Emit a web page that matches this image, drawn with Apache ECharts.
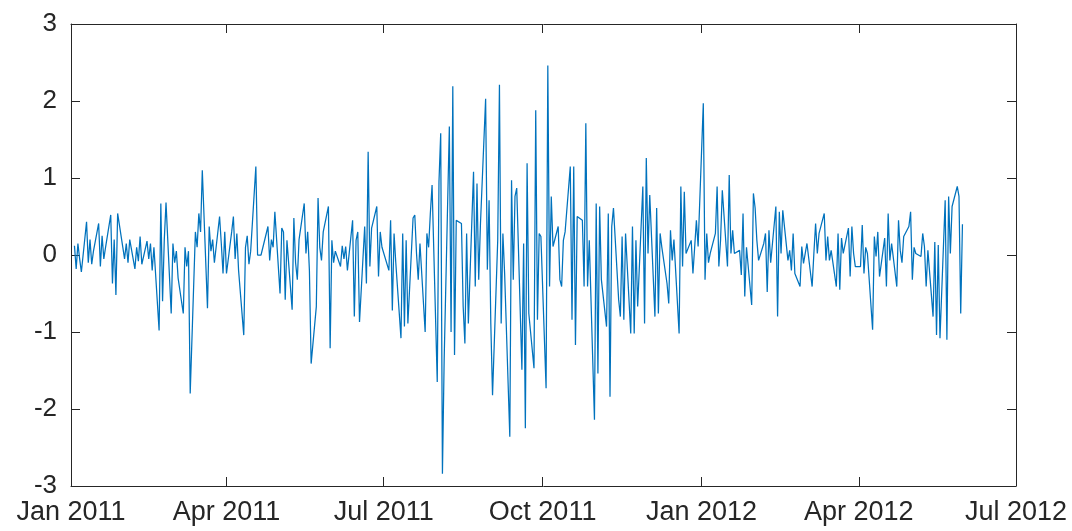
<!DOCTYPE html>
<html>
<head>
<meta charset="utf-8">
<script src="https://cdn.jsdelivr.net/npm/echarts@6/dist/echarts.min.js"></script>
<style>
  html, body { margin: 0; padding: 0; background: #ffffff; }
  #chart { width: 1072px; height: 531px; }
</style>
</head>
<body>
<div id="chart"></div>
<script>
// Daily values, one array per month (one entry per weekday of that month)
const r2011_01 = [0.12,-0.18,0.15,-0.05,-0.22, 0.43,-0.1,0.2,-0.12,0.05, 0.41,-0.15,0.25,-0.05,0.1, 0.52,-0.37,0.2,-0.52,0.54, 0.1];
const r2011_02 = [-0.05,0.15,-0.1,0.2, -0.18,0.1,-0.08,0.24,-0.12, 0.18,-0.05,0.15,-0.2,0.1, -0.98,0.67,-0.6,0.2,0.68, -0.76];
const r2011_03 = [0.15,-0.1,0.05,-0.3, -0.76,0.1,-0.15,0.05,-1.8, 0.3,0.1,0.54,0.3,1.1, -0.69,0.37,0.05,0.2,-0.1, 0.5,0.15,-0.24,0.3];
const r2011_04 = [-0.24, 0.3,0.5,-0.05,0.28,-0.2, -1.04,0.1,0.25,-0.12,0.05, 1.15,0.0,0.02,0.0,0.01, 0.37,-0.07,0.2,0.1,0.56];
const r2011_05 = [-0.5,0.35,0.3,-0.58,0.19, -0.71,0.48,-0.1,-0.32,0.2, 0.67,0.02,0.3,-0.2,-1.41, -0.67,0.74,0.1,-0.07,0.3, 0.63,-1.21];
const r2011_06 = [0.19,-0.1,0.05, -0.15,0.12,-0.05,0.11,-0.2, 0.45,-0.8,0.19,0.3,-0.87, 0.37,-0.37,1.34,-0.15,0.35, 0.63,-0.28,0.3,0.1];
const r2011_07 = [0.11, -0.2,0.45,-0.72,0.28,-0.1, -1.08,0.28,-0.93,0.19,-0.89, 0.48,0.52,0.02,-0.32,0.15, -1.0,0.28,0.1,0.54,0.91];
const r2011_08 = [-1.65,0.95,1.58,-2.84,-1.36, 1.67,-1.0,2.19,-1.3,0.45, 0.41,-0.67,-1.15,0.28,-0.89, 1.08,-0.41,0.93,-0.32,0.4, 2.03,-0.19,0.71];
const r2011_09 = [-0.89,-1.82, 0.19,2.21,-0.89,0.28,-0.24, -2.36,0.97,-0.32,0.76,0.87, -1.49,0.15,-2.25,1.19,-0.76, -1.47,1.88,-0.84,0.28,0.24];
const r2011_10 = [-1.73,2.46,-0.41,0.76,0.11, 0.37,-0.32,-0.41,0.19,0.3, 1.15,-0.84,1.15,-1.17,0.5, 0.45,-0.41,1.71,-0.41,0.19, -2.14];
const r2011_11 = [0.67,-1.54,0.63,-0.32, -0.93,0.54,-1.84,0.37,0.61, -0.58,-0.8,0.24,-0.84,0.28, -1.02,0.37,-1.02,0.19,-0.67, 0.89,-0.89,1.26];
const r2011_12 = [0.02,0.78, -0.8,0.61,-0.76,0.28,0.1, -0.37,-0.63,0.32,-0.07,0.2, -1.02,0.89,-0.15,0.82,0.02, 0.19,-0.24,0.1,0.45,0.11];
const r2012_01 = [1.97,-0.32,0.28,-0.1,0.02, 0.28,0.89,-0.15,0.2,0.84, -0.15,1.04,0.02,0.32,0.02, 0.06,-0.26,0.54,-0.54,0.1, -0.65,0.8];
const r2012_02 = [0.61,0.19,-0.07, 0.15,0.28,-0.48,0.32,-0.1, 0.63,-0.8,0.56,0.02,0.58, -0.07,0.06,-0.2,0.28,-0.24, -0.41,0.11,-0.11];
const r2012_03 = [0.02,0.15, -0.41,0.02,0.41,0.02,0.28, 0.54,-0.07,0.24,-0.07,0.06, -0.41,0.28,-0.45,0.22,0.02, 0.35,-0.28,0.37,0.02,-0.15];
const r2012_04 = [-0.15,0.39,-0.24,0.1,0.02, -0.97,0.24,-0.02,0.3,-0.28, 0.22,-0.41,0.54,-0.07,0.15, -0.41,0.45,0.06,-0.1,0.24, 0.37];
const r2012_05 = [0.56,-0.32,0.1,0.02, -0.02,0.28,0.11,-0.41,0.06, -0.8,0.17,-1.04,0.13,-1.08, 0.71,-1.1,0.76,0.02,0.63, 0.89,0.76,-0.76,0.4];

const monthNames = ['Jan','Feb','Mar','Apr','May','Jun','Jul','Aug','Sep','Oct','Nov','Dec'];
const xTickLabels = ['Jan 2011','Apr 2011','Jul 2011','Oct 2011','Jan 2012','Apr 2012','Jul 2012'];
const yTicks = [-3, -2, -1, 0, 1, 2, 3];

// [year, monthIndex, values]
const monthTable = [
  [2011, 0, r2011_01], [2011, 1, r2011_02], [2011, 2, r2011_03], [2011, 3, r2011_04],
  [2011, 4, r2011_05], [2011, 5, r2011_06], [2011, 6, r2011_07], [2011, 7, r2011_08],
  [2011, 8, r2011_09], [2011, 9, r2011_10], [2011, 10, r2011_11], [2011, 11, r2011_12],
  [2012, 0, r2012_01], [2012, 1, r2012_02], [2012, 2, r2012_03], [2012, 3, r2012_04],
  [2012, 4, r2012_05]
];

// Monday..Friday dates of a month, as timestamps
function weekdaysOf(year, month) {
  const out = [];
  const d = new Date(year, month, 1);
  while (d.getMonth() === month) {
    const wd = d.getDay();
    if (wd !== 0 && wd !== 6) out.push(d.getTime());
    d.setDate(d.getDate() + 1);
  }
  return out;
}

const points = [];
monthTable.forEach(([y, m, vals]) => {
  const days = weekdaysOf(y, m);
  vals.forEach((v, i) => points.push([days[i], v]));
});

const tickTimes = xTickLabels.map(s => {
  const [mon, yr] = s.split(' ');
  return new Date(+yr, monthNames.indexOf(mon), 1).getTime();
});

const AXIS_COLOR = '#262626';
const FONT = '"Liberation Sans", Arial, Helvetica, sans-serif';

// Timestamps on a linear value axis, ticks placed at quarter starts
function xAxisDef(pos, showLabels) {
  return {
    type: 'value',
    position: pos,
    min: tickTimes[0],
    max: tickTimes[tickTimes.length - 1],
    scale: true,
    axisLine: { show: true, onZero: false, lineStyle: { color: AXIS_COLOR, width: 1 } },
    axisTick: { show: true, inside: true, length: 9, customValues: tickTimes, lineStyle: { color: AXIS_COLOR, width: 1 } },
    axisLabel: {
      show: showLabels,
      customValues: tickTimes,
      margin: 13,
      fontSize: 27,
      fontFamily: FONT,
      color: AXIS_COLOR,
      showMinLabel: true,
      showMaxLabel: true,
      hideOverlap: false,
      formatter: v => {
        const d = new Date(v);
        return monthNames[d.getMonth()] + ' ' + d.getFullYear();
      }
    },
    splitLine: { show: false }
  };
}

function yAxisDef(pos, showLabels) {
  return {
    type: 'value',
    position: pos,
    min: yTicks[0],
    max: yTicks[yTicks.length - 1],
    interval: 1,
    axisLine: { show: true, onZero: false, lineStyle: { color: AXIS_COLOR, width: 1 } },
    axisTick: { show: true, inside: true, length: 9, lineStyle: { color: AXIS_COLOR, width: 1 } },
    axisLabel: {
      show: showLabels,
      margin: 14,
      fontSize: 26,
      fontFamily: FONT,
      color: AXIS_COLOR
    },
    splitLine: { show: false }
  };
}

const chart = echarts.init(document.getElementById('chart'), null, { renderer: 'canvas' });
chart.setOption({
  animation: false,
  backgroundColor: '#ffffff',
  grid: { left: 71, right: 56, top: 24, bottom: 45, containLabel: false, outerBoundsMode: 'none' },
  xAxis: [xAxisDef('bottom', true), xAxisDef('top', false)],
  yAxis: [yAxisDef('left', true), yAxisDef('right', false)],
  series: [{
    type: 'line',
    xAxisIndex: 0,
    yAxisIndex: 0,
    data: points,
    showSymbol: false,
    symbol: 'none',
    lineStyle: { color: '#0072BD', width: 1.25 },
    emphasis: { disabled: true }
  }]
});
</script>
</body>
</html>
